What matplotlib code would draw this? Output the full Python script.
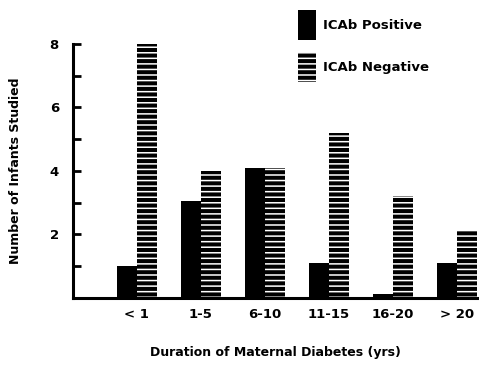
import matplotlib.pyplot as plt
import numpy as np
from matplotlib.patches import Patch

categories = ["< 1", "1-5", "6-10", "11-15", "16-20", "> 20"]
positive = [1.0, 3.05, 4.1, 1.1, 0.12, 1.1]
negative = [8.0, 4.0, 4.1, 5.2, 3.2, 2.15]

plt.rcParams['hatch.color'] = 'white'
plt.rcParams['hatch.linewidth'] = 1.1
plt.rcParams['font.weight'] = 'bold'

fig = plt.figure(figsize=(4.79, 3.66), dpi=100)
ax = fig.add_axes([0.152, 0.186, 0.846, 0.694])

x = np.arange(len(categories))
w = 0.31
ax.bar(x - w / 2, positive, w, color='black', linewidth=0)
ax.bar(x + w / 2, negative, w, color='black', hatch='---', linewidth=0)

ax.set_xlim(-1.0, 5.33)
ax.set_ylim(0, 8)
ax.set_yticks([2, 4, 6, 8])
ax.set_yticks([1, 3, 5, 7], minor=True)
ax.set_xticks(x)
ax.set_xticklabels(categories, fontsize=9.5)
ax.tick_params(axis='x', length=0, pad=7)
ax.tick_params(axis='y', which='both', direction='in', length=6, width=2,
               labelsize=9.5, pad=10)

for s in ['top', 'right']:
    ax.spines[s].set_visible(False)
for s in ['left', 'bottom']:
    ax.spines[s].set_linewidth(2.2)

ax.set_ylabel("Number of Infants Studied", fontsize=9, fontweight='bold',
              labelpad=20)
ax.set_xlabel("Duration of Maternal Diabetes (yrs)", fontsize=9,
              fontweight='bold', labelpad=18)

handles = [Patch(facecolor='black', linewidth=0),
           Patch(facecolor='black', hatch='---', linewidth=0)]
fig.legend(handles, ["ICAb Positive", "ICAb Negative"], loc='upper left',
           bbox_to_anchor=(0.598, 1.005), frameon=False, fontsize=9.5,
           handlelength=1.35, handleheight=3.1, labelspacing=0.95,
           handletextpad=0.5)

fig.savefig("out.png")
